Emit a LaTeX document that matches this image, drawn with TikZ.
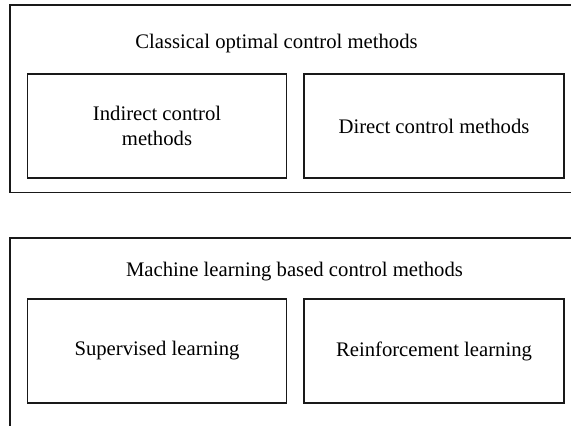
\documentclass[tikz,border=0pt]{standalone}
\usepackage{fontspec}
\setmainfont{Liberation Serif}
\begin{document}
\begin{tikzpicture}[x=1pt,y=-1pt,
  outerbox/.style={draw=black!90,line width=1.6pt},
  innerbox/.style={draw=black!90,line width=1.6pt,rectangle,inner sep=0pt,align=center,font=\fontsize{20.7}{24.5}\selectfont},
  titletext/.style={inner sep=0pt,font=\fontsize{20.7}{24.5}\selectfont}]
\useasboundingbox (0,0) rectangle (571,426);
\clip (0,0) rectangle (571,426);
\fill[white] (0,0) rectangle (571,426);
% top group
\draw[outerbox] (600,5) -| (10,192.5) -- (600,192.5);
\node[titletext] (t1) at (276.5,43.5) {Classical optimal control methods};
\node[innerbox,minimum width=259pt,minimum height=104pt] (ind) at (157,126) {Indirect control\\methods};
\node[innerbox,minimum width=260pt,minimum height=104pt] (dir) at (434,126) {Direct control methods};
% bottom group
\draw[outerbox] (10,440) |- (600,238);
\node[titletext] (t2) at (294.5,271.5) {Machine learning based control methods};
\node[innerbox,minimum width=259pt,minimum height=104pt] (sup) at (157,351) {Supervised learning};
\node[innerbox,minimum width=260pt,minimum height=104pt] (rl) at (434,351) {Reinforcement learning};
\end{tikzpicture}
\end{document}
